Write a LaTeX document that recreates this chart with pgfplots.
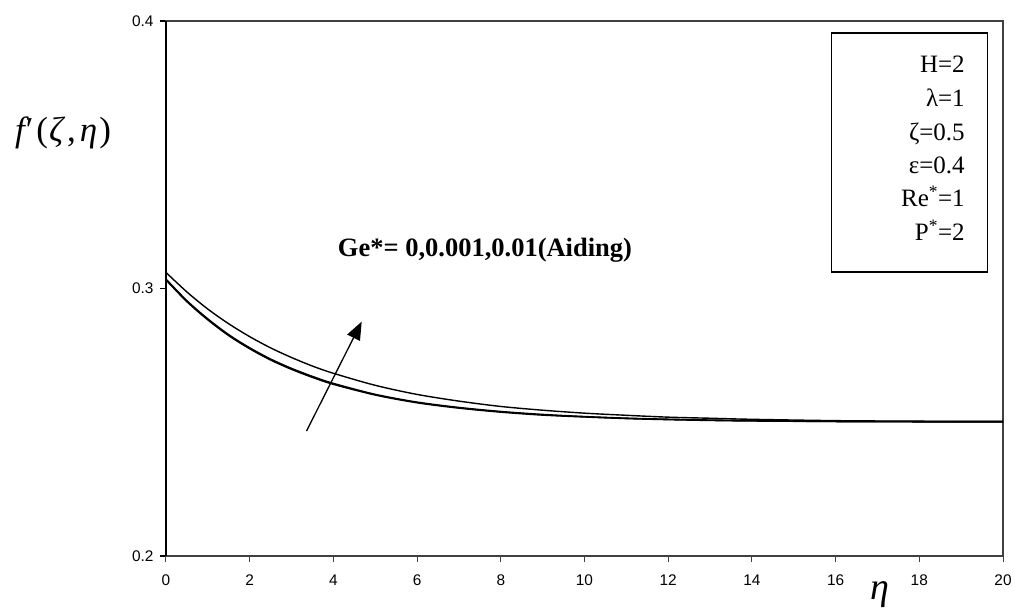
\documentclass[border=0pt]{standalone}
\usepackage{fontspec}
\setmainfont{Liberation Serif}
\setsansfont{Liberation Sans}
\usepackage{pgfplots}
\pgfplotsset{compat=1.18}
\usetikzlibrary{arrows.meta}
\definecolor{framegray}{RGB}{64,64,64}

% velocity profiles f'(zeta,eta) for Ge* = 0, 0.001, 0.01
\pgfplotstableread{
eta  f0     f1     f2
0    0.3032 0.3035 0.3060
0.5  0.2951 0.2954 0.2987
1    0.2883 0.2886 0.2923
1.5  0.2824 0.2827 0.2868
2    0.2775 0.2778 0.2820
2.5  0.2733 0.2736 0.2778
3    0.2698 0.2701 0.2742
3.5  0.2668 0.2671 0.2710
4    0.2642 0.2645 0.2683
5    0.2602 0.2604 0.2638
6    0.2573 0.2575 0.2604
7    0.2553 0.2555 0.2579
8    0.2538 0.2540 0.2559
9    0.2527 0.2529 0.2545
10   0.2520 0.2521 0.2534
11   0.2514 0.2515 0.2526
12   0.2510 0.2511 0.2519
13   0.2507 0.2508 0.2515
14   0.2505 0.2506 0.2511
16   0.2503 0.2503 0.2506
18   0.2502 0.2502 0.2504
20   0.2502 0.2502 0.2503
}\profiles

\begin{document}
\begin{tikzpicture}
\path[use as bounding box] (-166pt,-54pt) rectangle (849pt,556pt);
\begin{axis}[
  scale only axis, width=837pt, height=535pt,
  xmin=0, xmax=20, ymin=0.2, ymax=0.4,
  xtick={0,2,...,20}, ytick={0.2,0.3,0.4},
  tick pos=left, tick align=outside, major tick length=6pt,
  axis line style={draw=framegray, line width=2.8pt},
  x tick style={draw=framegray, line width=1pt},
  y tick style={draw=black, line width=1.3pt},
  tick label style={font=\fontsize{15.4}{16}\sffamily},
  /pgf/number format/assume math mode=true,
  xticklabel style={yshift=-9pt},
  yticklabel style={xshift=-3pt, /pgf/number format/.cd, fixed, fixed zerofill, precision=1},
  xlabel={\fontsize{38}{40}\selectfont\itshape η},
  xlabel style={at={(axis description cs:0.853,-0.073)}, anchor=center},
  ylabel={\fontsize{35}{37}\selectfont{\itshape f}\kern1pt′\kern3pt(\kern1pt\textit{ζ}\kern2pt,\kern4pt\textit{η}\kern2pt)},
  ylabel style={rotate=-90, at={(axis description cs:-0.123,0.791)}, anchor=center},
  clip=false,
]
\addplot[black, line width=1.6pt, smooth] table[x=eta, y=f0] {\profiles};
\addplot[black, line width=1.6pt, smooth] table[x=eta, y=f1] {\profiles};
\addplot[black, line width=1.4pt, smooth] table[x=eta, y=f2] {\profiles};

% left axis line drawn in black over the frame
\draw[black, line width=2.8pt] (rel axis cs:0,0) -- (rel axis cs:0,1);

% direction of increasing Ge*
\draw[black, line width=1.3pt, -{Triangle[length=18pt, width=14pt]}]
  (axis cs:3.357,0.2467) -- (axis cs:4.676,0.2876);
\node[font=\fontsize{26.5}{28}\selectfont\bfseries] at (axis cs:7.622,0.3144)
  {Ge*= 0,0.001,0.01(Aiding)};

% parameter box
\draw[black, line width=1.2pt, fill=white] (axis cs:15.91,0.3955) rectangle (axis cs:19.62,0.3062);
\begin{scope}[every node/.style={anchor=base east, inner sep=0pt, font=\fontsize{25}{28}\selectfont}]
\node at (axis cs:19.09,0.38056) {H=2};
\node at (axis cs:19.09,0.36811) {λ=1};
\node at (axis cs:19.09,0.35551) {ζ=0.5};
\node at (axis cs:19.09,0.34292) {ε=0.4};
\node at (axis cs:19.09,0.33047) {Re\textsuperscript{*}=1};
\node at (axis cs:19.09,0.31802) {P\textsuperscript{*}=2};
\end{scope}
\end{axis}
\end{tikzpicture}
\end{document}
